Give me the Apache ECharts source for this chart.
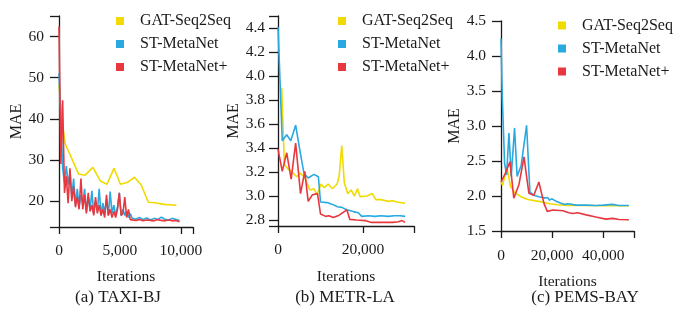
<!DOCTYPE html>
<html>
<head>
<meta charset="utf-8">
<title>MAE vs iterations</title>
<script src="https://cdn.jsdelivr.net/npm/echarts@6/dist/echarts.min.js"></script>
<style>
  *{margin:0;padding:0;}
  body{background:#fff;}
  #main{width:675px;height:310px;}
</style>
</head>
<body>
<div id="main"></div>
<script type="text/javascript">
// series names
var names = ['GAT-Seq2Seq', 'ST-MetaNet', 'ST-MetaNet+'];
var colors = ['#f0da00', '#2aa9e0', '#e8383f'];

// (a) TAXI-BJ
var taxiGatIter = [0, 220, 500, 1600, 2150, 2780, 3390, 3940, 4520, 5040, 5590, 6200, 6750, 7330, 7880, 8620, 9640];
var taxiGatMae  = [48.5, 40.5, 34.0, 26.6, 26.3, 28.2, 24.9, 24.1, 28.0, 24.1, 24.5, 25.8, 23.9, 19.7, 19.6, 19.2, 19.0];
var taxiIter = [0, 150, 300, 450, 600, 750, 900, 1050, 1200, 1350, 1500, 1650, 1800, 1950, 2100, 2250, 2400, 2550, 2700, 2850,
                3000, 3150, 3300, 3450, 3600, 3750, 3900, 4050, 4200, 4350, 4500, 4650, 4800, 4950, 5100, 5250, 5400, 5550, 5700, 5850,
                6000, 6300, 6600, 6900, 7200, 7500, 7800, 8100, 8400, 8700, 9000, 9300, 9600, 9900];
var taxiMetaMae = [51, 40, 28, 24.5, 28.5, 24, 27, 21, 25.5, 19, 23, 18.5, 21.5, 19, 23, 17.5, 21, 18, 22.5, 17,
                   20, 17.5, 23, 16.5, 19.5, 17, 20.5, 16.5, 22.3, 17, 19, 16.5, 18.5, 22, 16.5, 18, 16.5, 17.5, 16, 17,
                   15.8, 15.6, 16.0, 15.5, 15.9, 15.4, 15.8, 15.5, 16.1, 15.6, 15.4, 15.8, 15.5, 15.3];
var taxiPlusMae = [62.5, 29, 44.5, 22, 26, 19.5, 28, 20, 23.5, 18.5, 21, 18, 25.5, 18, 21.5, 17, 22, 17.5, 19, 16.5,
                   21, 17, 19, 16.5, 18, 16, 21.5, 16.5, 18, 16, 17.5, 16, 18, 22, 16.5, 17, 21, 16, 18, 15.5,
                   15.5, 15.3, 15.5, 15.2, 15.4, 15.3, 15.2, 15.5, 15.3, 15.2, 15.4, 15.2, 15.3, 15.0];

// (b) METR-LA
var metrGatIter = [870, 1500, 2500, 3300, 4400, 5200, 6200, 7500, 8500, 9200, 10100, 10900, 11800, 12800, 13900, 14400, 15000,
                   15600, 16400, 17200, 18000, 18700, 19300, 20900, 22200, 23000, 24200, 26000, 27000, 28000, 29900];
var metrGatMae  = [3.90, 3.26, 3.22, 3.20, 3.16, 3.19, 3.16, 3.05, 3.06, 3.01, 3.10, 3.07, 3.10, 3.06, 3.10, 3.17, 3.42,
                   3.11, 3.02, 3.05, 3.00, 3.06, 2.995, 3.00, 3.02, 2.97, 2.97, 2.955, 2.96, 2.95, 2.94];
var metrMetaIter = [0, 1000, 2050, 3000, 4150, 5200, 6100, 7100, 8450, 9500, 10000, 11600, 12800, 14000, 15000, 16200,
                    17700, 18900, 19700, 21300, 22800, 24200, 26000, 27300, 28800, 29900];
var metrMetaMae  = [4.41, 3.46, 3.51, 3.46, 3.59, 3.37, 3.19, 3.15, 3.18, 3.16, 2.95, 2.945, 2.93, 2.91, 2.905, 2.885,
                    2.87, 2.86, 2.83, 2.835, 2.83, 2.835, 2.83, 2.835, 2.835, 2.83];
var metrPlusIter = [0, 1000, 2050, 3100, 4150, 5300, 6300, 7100, 8100, 9300, 10000, 11200, 12000, 13000, 14400, 15000,
                    16200, 16900, 18500, 20500, 22000, 24200, 27000, 28300, 29200, 29900];
var metrPlusMae  = [3.39, 3.205, 3.36, 3.14, 3.44, 3.02, 3.205, 2.955, 3.01, 3.02, 2.85, 2.83, 2.835, 2.82, 2.84, 2.855,
                    2.885, 2.805, 2.80, 2.795, 2.78, 2.78, 2.78, 2.785, 2.795, 2.78];

// (c) PEMS-BAY
var pemsGatIter = [0, 600, 2300, 3700, 5300, 7800, 10500, 13500, 16500, 19000, 22000, 26000, 32000, 40000, 50000];
var pemsGatMae  = [2.21, 2.15, 2.41, 2.14, 2.05, 1.99, 1.95, 1.93, 1.91, 1.89, 1.875, 1.865, 1.865, 1.86, 1.86];
var pemsMetaIter = [0, 500, 1400, 2200, 3100, 4000, 5300, 6300, 7900, 8600, 10000, 11300, 12800, 14800, 17400, 18200,
                    19000, 19800, 21300, 23200, 24900, 26200, 29400, 33300, 37000, 40000, 43600, 46000, 50000];
var pemsMetaMae  = [4.25, 3.42, 2.47, 2.30, 2.90, 2.28, 2.97, 2.28, 2.44, 2.42, 3.01, 2.06, 2.01, 1.99, 1.97, 1.98,
                    1.94, 1.96, 1.93, 1.90, 1.88, 1.89, 1.87, 1.87, 1.865, 1.87, 1.88, 1.865, 1.865];
var pemsPlusIter = [0, 1660, 3500, 5000, 7000, 9000, 10000, 10900, 12850, 14800, 16800, 18100, 20300, 24200, 26500,
                    28100, 30000, 33300, 37100, 41000, 43600, 46100, 50000];
var pemsPlusMae  = [2.20, 2.32, 2.49, 1.97, 2.16, 2.56, 2.28, 2.04, 2.01, 2.20, 1.895, 1.78, 1.80, 1.79, 1.76,
                    1.75, 1.76, 1.73, 1.70, 1.67, 1.68, 1.665, 1.66];

// tick marks / labels
var taxiXTicks = [0, 5000, 10000, 11000], taxiXLabels = [0, 5000, 10000];
var taxiYTicks = [13.7, 20, 30, 40, 50, 60, 65], taxiYLabels = [20, 30, 40, 50, 60];
var metrXTicks = [0, 20000, 32000], metrXLabels = [0, 20000];
var metrYTicks = [2.75, 2.8, 3.0, 3.2, 3.4, 3.6, 3.8, 4.0, 4.2, 4.4, 4.5];
var metrYLabels = [2.8, 3.0, 3.2, 3.4, 3.6, 3.8, 4.0, 4.2, 4.4];
var pemsXTicks = [0, 20000, 40000, 52000], pemsXLabels = [0, 20000, 40000];
var pemsYTicks = [1.5, 2.0, 2.5, 3.0, 3.5, 4.0, 4.5];

var FONT = 'Liberation Serif';
var INK = '#1a1a1a';

function pairs(xs, ys) {
    var out = [];
    for (var i = 0; i < xs.length; i++) out.push([xs[i], ys[i]]);
    return out;
}
function thousands(v) {
    return String(v).replace(/\B(?=(\d{3})+(?!\d))/g, ',');
}

function xAxis(idx, max, ticks, labels, nameGap, margin) {
    return {
        gridIndex: idx, type: 'value', min: 0, max: max,
        axisLine: {show: true, onZero: false, lineStyle: {color: INK, width: 1.3}},
        axisTick: {show: true, length: 7, customValues: ticks, lineStyle: {color: INK, width: 1.3}},
        axisLabel: {customValues: labels, formatter: thousands, fontFamily: FONT, fontSize: 15.5, color: INK, margin: margin},
        splitLine: {show: false},
        name: 'Iterations', nameLocation: 'middle', nameGap: nameGap,
        nameTextStyle: {fontFamily: FONT, fontSize: 15.5, color: INK}
    };
}
function yAxis(idx, min, max, ticks, labels, digits, nameGap, margin) {
    return {
        gridIndex: idx, type: 'value', min: min, max: max,
        axisLine: {show: true, lineStyle: {color: INK, width: 1.3}},
        axisTick: {show: true, length: 9, customValues: ticks, lineStyle: {color: INK, width: 1.3}},
        axisLabel: {customValues: labels, formatter: function (v) { return v.toFixed(digits); },
                    fontFamily: FONT, fontSize: 15.5, color: INK, margin: margin},
        splitLine: {show: false},
        name: 'MAE', nameLocation: 'middle', nameRotate: 90, nameGap: nameGap,
        nameTextStyle: {fontFamily: FONT, fontSize: 16, color: INK}
    };
}
function legend(left, top) {
    return {
        data: names, left: left, top: top, orient: 'vertical', icon: 'rect',
        itemWidth: 8, itemHeight: 8, itemGap: 7, padding: 0, selectedMode: false,
        textStyle: {fontFamily: FONT, fontSize: 16, color: INK, lineHeight: 16, padding: [0, 0, 0, 11]}
    };
}
function line(name, grid, data) {
    return {
        name: name, type: 'line', xAxisIndex: grid, yAxisIndex: grid, data: data,
        showSymbol: false, symbol: 'none', animation: false,
        lineStyle: {width: 1.6, color: colors[names.indexOf(name)]},
        itemStyle: {color: colors[names.indexOf(name)]}
    };
}

var myChart = echarts.init(document.getElementById('main'), null, {renderer: 'canvas'});
var option = {
    backgroundColor: '#fff',
    animation: false,
    grid: [
        {left: 59, top: 16, width: 134, height: 211},
        {left: 278, top: 16, width: 136, height: 210},
        {left: 501, top: 21, width: 133, height: 210}
    ],
    xAxis: [
        xAxis(0, 11000, taxiXTicks, taxiXLabels, 42, 16),
        xAxis(1, 32000, metrXTicks, metrXLabels, 43, 16),
        xAxis(2, 52000, pemsXTicks, pemsXLabels, 43, 17)
    ],
    yAxis: [
        yAxis(0, 13.7, 65, taxiYTicks, taxiYLabels, 0, 34, 15),
        yAxis(1, 2.75, 4.5, metrYTicks, metrYLabels, 1, 30, 13),
        yAxis(2, 1.5, 4.5, pemsYTicks, pemsYTicks, 1, 32, 15)
    ],
    legend: [legend(116, 13), legend(338, 13), legend(558, 17.5)],
    series: [
        line('GAT-Seq2Seq', 0, pairs(taxiGatIter, taxiGatMae)),
        line('ST-MetaNet', 0, pairs(taxiIter, taxiMetaMae)),
        line('ST-MetaNet+', 0, pairs(taxiIter, taxiPlusMae)),
        line('GAT-Seq2Seq', 1, pairs(metrGatIter, metrGatMae)),
        line('ST-MetaNet', 1, pairs(metrMetaIter, metrMetaMae)),
        line('ST-MetaNet+', 1, pairs(metrPlusIter, metrPlusMae)),
        line('GAT-Seq2Seq', 2, pairs(pemsGatIter, pemsGatMae)),
        line('ST-MetaNet', 2, pairs(pemsMetaIter, pemsMetaMae)),
        line('ST-MetaNet+', 2, pairs(pemsPlusIter, pemsPlusMae))
    ],
    graphic: [
        {type: 'text', x: 118, y: 298, style: {text: '(a) TAXI-BJ', font: '17px "Liberation Serif"', fill: INK, textAlign: 'center', textVerticalAlign: 'middle'}},
        {type: 'text', x: 345, y: 298, style: {text: '(b) METR-LA', font: '17px "Liberation Serif"', fill: INK, textAlign: 'center', textVerticalAlign: 'middle'}},
        {type: 'text', x: 585, y: 298, style: {text: '(c) PEMS-BAY', font: '17px "Liberation Serif"', fill: INK, textAlign: 'center', textVerticalAlign: 'middle'}}
    ]
};
myChart.setOption(option);
</script>
</body>
</html>
